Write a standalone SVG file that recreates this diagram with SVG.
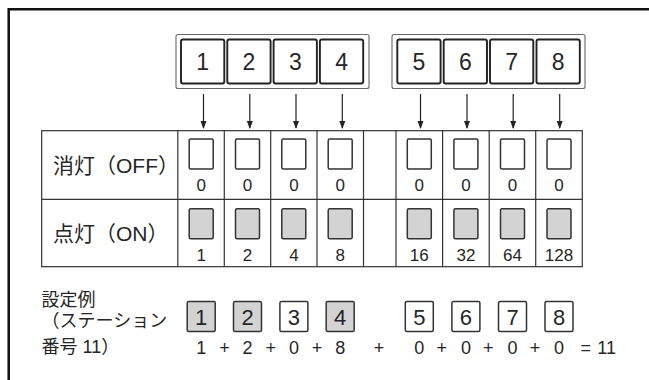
<svg xmlns="http://www.w3.org/2000/svg" width="649" height="380" viewBox="0 0 649 380">
  <style>
    .t { font-family: "Liberation Sans", "Noto Sans CJK JP", sans-serif; fill: #262626; }
    .big { font-size: 23px; text-anchor: middle; }
    .mid { font-size: 22px; text-anchor: middle; }
    .num { font-size: 17px; text-anchor: middle; }
    .lbl { font-size: 21px; }
    .ex { font-size: 18px; }
    .eq { font-size: 18px; text-anchor: middle; }
    .grp { fill: #fff; stroke: #666; stroke-width: 1.1; }
    .key { fill: #fff; stroke: #222; stroke-width: 1.9; }
    .off { fill: #fff; stroke: #333; stroke-width: 1.5; }
    .on { fill: #d3d3d4; stroke: #333; stroke-width: 1.5; }
    .tbl { fill: none; stroke: #333; stroke-width: 1.2; }
    .arr { stroke: #222; stroke-width: 1.2; fill: none; }
  </style>
  <defs>
    <marker id="ah" markerWidth="8" markerHeight="10" refX="7" refY="5" orient="auto" markerUnits="userSpaceOnUse">
      <path d="M0,2 L8,5 L0,8 Z" fill="#222"/>
    </marker>
  </defs>
  <rect width="649" height="380" fill="#fff"/>
  <path d="M8.7,380 V9.2 H649" fill="none" stroke="#111" stroke-width="2.5"/>

  <g id="switches-1-4">
    <rect class="grp" x="176" y="34.5" width="193" height="54" rx="2"/>
    <rect class="key" x="181" y="39.5" width="43.3" height="44" rx="2"/>
    <rect class="key" x="227.3" y="39.5" width="43.3" height="44" rx="2"/>
    <rect class="key" x="273.6" y="39.5" width="43.3" height="44" rx="2"/>
    <rect class="key" x="319.9" y="39.5" width="43.3" height="44" rx="2"/>
    <text class="t big" x="202.7" y="70">1</text>
    <text class="t big" x="249" y="70">2</text>
    <text class="t big" x="295.3" y="70">3</text>
    <text class="t big" x="341.6" y="70">4</text>
  </g>
  <g id="switches-5-8">
    <rect class="grp" x="392" y="34.5" width="193" height="54" rx="2"/>
    <rect class="key" x="397.3" y="39.5" width="43.3" height="44" rx="2"/>
    <rect class="key" x="443.7" y="39.5" width="43.3" height="44" rx="2"/>
    <rect class="key" x="490" y="39.5" width="43.3" height="44" rx="2"/>
    <rect class="key" x="536.5" y="39.5" width="43.3" height="44" rx="2"/>
    <text class="t big" x="419" y="70">5</text>
    <text class="t big" x="465.3" y="70">6</text>
    <text class="t big" x="511.6" y="70">7</text>
    <text class="t big" x="558.1" y="70">8</text>
  </g>

  <g id="connectors">
    <line class="arr" x1="203.5" y1="94" x2="203.5" y2="128" marker-end="url(#ah)"/>
    <line class="arr" x1="249.8" y1="94" x2="249.8" y2="128" marker-end="url(#ah)"/>
    <line class="arr" x1="296" y1="94" x2="296" y2="128" marker-end="url(#ah)"/>
    <line class="arr" x1="342.3" y1="94" x2="342.3" y2="128" marker-end="url(#ah)"/>
    <line class="arr" x1="420.5" y1="94" x2="420.5" y2="128" marker-end="url(#ah)"/>
    <line class="arr" x1="467" y1="94" x2="467" y2="128" marker-end="url(#ah)"/>
    <line class="arr" x1="513.2" y1="94" x2="513.2" y2="128" marker-end="url(#ah)"/>
    <line class="arr" x1="559.7" y1="94" x2="559.7" y2="128" marker-end="url(#ah)"/>
  </g>

  <g id="table">
    <rect class="tbl" x="41.7" y="130.7" width="540.6" height="136"/>
    <line class="tbl" x1="41.7" y1="199.3" x2="582.3" y2="199.3"/>
    <line class="tbl" x1="177.8" y1="130.7" x2="177.8" y2="266.7"/>
    <line class="tbl" x1="224.3" y1="130.7" x2="224.3" y2="266.7"/>
    <line class="tbl" x1="270.7" y1="130.7" x2="270.7" y2="266.7"/>
    <line class="tbl" x1="317" y1="130.7" x2="317" y2="266.7"/>
    <line class="tbl" x1="363.5" y1="130.7" x2="363.5" y2="266.7"/>
    <line class="tbl" x1="396" y1="130.7" x2="396" y2="266.7"/>
    <line class="tbl" x1="442.6" y1="130.7" x2="442.6" y2="266.7"/>
    <line class="tbl" x1="489.2" y1="130.7" x2="489.2" y2="266.7"/>
    <line class="tbl" x1="535.7" y1="130.7" x2="535.7" y2="266.7"/>
  </g>

  <g id="row-off">
    <text class="t lbl" x="53" y="172.5">消灯（OFF）</text>
    <rect class="off" x="189.2" y="139" width="24" height="30" rx="1.5"/>
    <rect class="off" x="235.5" y="139" width="24" height="30" rx="1.5"/>
    <rect class="off" x="281.8" y="139" width="24" height="30" rx="1.5"/>
    <rect class="off" x="328.2" y="139" width="24" height="30" rx="1.5"/>
    <rect class="off" x="407.3" y="139" width="24" height="30" rx="1.5"/>
    <rect class="off" x="453.9" y="139" width="24" height="30" rx="1.5"/>
    <rect class="off" x="500.5" y="139" width="24" height="30" rx="1.5"/>
    <rect class="off" x="547" y="139" width="24" height="30" rx="1.5"/>
    <text class="t num" x="201.2" y="191">0</text>
    <text class="t num" x="247.5" y="191">0</text>
    <text class="t num" x="293.9" y="191">0</text>
    <text class="t num" x="340.2" y="191">0</text>
    <text class="t num" x="419.3" y="191">0</text>
    <text class="t num" x="465.9" y="191">0</text>
    <text class="t num" x="512.5" y="191">0</text>
    <text class="t num" x="559" y="191">0</text>
  </g>

  <g id="row-on">
    <text class="t lbl" x="53" y="240.5">点灯（ON）</text>
    <rect class="on" x="189.2" y="208.7" width="24" height="30" rx="1.5"/>
    <rect class="on" x="235.5" y="208.7" width="24" height="30" rx="1.5"/>
    <rect class="on" x="281.8" y="208.7" width="24" height="30" rx="1.5"/>
    <rect class="on" x="328.2" y="208.7" width="24" height="30" rx="1.5"/>
    <rect class="on" x="407.3" y="208.7" width="24" height="30" rx="1.5"/>
    <rect class="on" x="453.9" y="208.7" width="24" height="30" rx="1.5"/>
    <rect class="on" x="500.5" y="208.7" width="24" height="30" rx="1.5"/>
    <rect class="on" x="547" y="208.7" width="24" height="30" rx="1.5"/>
    <text class="t num" x="201.2" y="260.5">1</text>
    <text class="t num" x="247.5" y="260.5">2</text>
    <text class="t num" x="293.9" y="260.5">4</text>
    <text class="t num" x="340.2" y="260.5">8</text>
    <text class="t num" x="419.3" y="260.5">16</text>
    <text class="t num" x="465.9" y="260.5">32</text>
    <text class="t num" x="512.5" y="260.5">64</text>
    <text class="t num" x="559" y="260.5">128</text>
  </g>

  <g id="example">
    <text class="t ex" x="41.5" y="306">設定例</text>
    <text class="t ex" x="41.5" y="327">（ステーション</text>
    <text class="t ex" x="41.5" y="353">番号 11）</text>
    <rect class="on" x="187.2" y="301.5" width="28" height="30" rx="1.5"/>
    <rect class="on" x="233.5" y="301.5" width="28" height="30" rx="1.5"/>
    <rect class="off" x="279.9" y="301.5" width="28" height="30" rx="1.5"/>
    <rect class="on" x="326.2" y="301.5" width="28" height="30" rx="1.5"/>
    <rect class="off" x="405.3" y="301.5" width="28" height="30" rx="1.5"/>
    <rect class="off" x="451.9" y="301.5" width="28" height="30" rx="1.5"/>
    <rect class="off" x="498.5" y="301.5" width="28" height="30" rx="1.5"/>
    <rect class="off" x="545" y="301.5" width="28" height="30" rx="1.5"/>
    <text class="t mid" x="201.2" y="324.5">1</text>
    <text class="t mid" x="247.5" y="324.5">2</text>
    <text class="t mid" x="293.9" y="324.5">3</text>
    <text class="t mid" x="340.2" y="324.5">4</text>
    <text class="t mid" x="419.3" y="324.5">5</text>
    <text class="t mid" x="465.9" y="324.5">6</text>
    <text class="t mid" x="512.5" y="324.5">7</text>
    <text class="t mid" x="559" y="324.5">8</text>
    <text class="t eq" x="201.2" y="354">1</text>
    <text class="t eq" x="224.4" y="354">+</text>
    <text class="t eq" x="247.5" y="354">2</text>
    <text class="t eq" x="270.7" y="354">+</text>
    <text class="t eq" x="293.9" y="354">0</text>
    <text class="t eq" x="317" y="354">+</text>
    <text class="t eq" x="340.2" y="354">8</text>
    <text class="t eq" x="379" y="354">+</text>
    <text class="t eq" x="419.3" y="354">0</text>
    <text class="t eq" x="441.7" y="354">+</text>
    <text class="t eq" x="465.9" y="354">0</text>
    <text class="t eq" x="488.2" y="354">+</text>
    <text class="t eq" x="512.5" y="354">0</text>
    <text class="t eq" x="535" y="354">+</text>
    <text class="t eq" x="559" y="354">0</text>
    <text class="t eq" x="585.7" y="354">=</text>
    <text class="t eq" x="606.7" y="354">11</text>
  </g>
</svg>
